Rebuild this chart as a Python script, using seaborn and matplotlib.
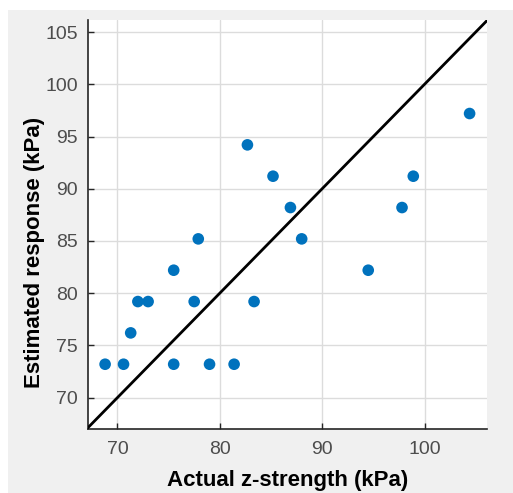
import matplotlib
matplotlib.use("Agg")
import matplotlib.pyplot as plt
import seaborn as sns
import pandas as pd
from matplotlib.patches import Rectangle

actual = [104.4, 82.7, 85.2, 98.9, 86.9, 97.8, 77.9, 88.0,
          75.5, 94.5, 72.0, 73.0, 77.5, 83.35, 71.3,
          68.8, 70.6, 75.5, 79.0, 81.4]
estimated = [97.2, 94.2, 91.2, 91.2, 88.2, 88.2, 85.2, 85.2,
             82.2, 82.2, 79.2, 79.2, 79.2, 79.2, 76.2,
             73.2, 73.2, 73.2, 73.2, 73.2]
x_ticks = [70, 80, 90, 100]
y_ticks = [70, 75, 80, 85, 90, 95, 100, 105]
lims = [67.1, 106.1]
ylims = [67.0, 106.2]

sns.set_theme(style="white")
plt.rcParams['font.family'] = ['Liberation Sans', 'DejaVu Sans']

df = pd.DataFrame({"actual": actual, "estimated": estimated})

fig = plt.figure(figsize=(5.13, 4.93), dpi=100, facecolor="white")
bg = Rectangle((8 / 513, 0), 1, (493 - 10) / 493, transform=fig.transFigure,
               facecolor="#f0f0f0", edgecolor="none", zorder=-10)
fig.add_artist(bg)
ax = fig.add_axes([87.7 / 513, 64 / 493, (487 - 87.7) / 513, (429 - 19.5) / 493])
ax.set_zorder(1)
ax.set_facecolor("white")

ax.plot(lims, [lims[0], lims[1]], color="black", lw=2, zorder=3)
sns.scatterplot(data=df, x="actual", y="estimated", ax=ax, color="#0072BD",
                s=70, edgecolor="none", zorder=4)

ax.set_xlim(lims)
ax.set_ylim(ylims)
ax.set_xticks(x_ticks)
ax.set_yticks(y_ticks)
ax.grid(True, color="#dcdcdc", lw=1)
ax.set_axisbelow(True)
for s in ["top", "right"]:
    ax.spines[s].set_visible(False)
for s in ["left", "bottom"]:
    ax.spines[s].set_color("#262626")
    ax.spines[s].set_linewidth(1.2)
ax.tick_params(axis="both", direction="in", length=4, width=1, colors="#262626",
               labelcolor="#4d4d4d", labelsize=14, left=True, bottom=True)
ax.tick_params(axis="y", pad=7)
ax.tick_params(axis="x", pad=9)
ax.set_xlabel("Actual z-strength (kPa)", fontsize=16, fontweight="bold", color="black", labelpad=8)
ax.set_ylabel("Estimated response (kPa)", fontsize=16, fontweight="bold", color="black")
ax.yaxis.set_label_coords(-0.107, 0.43)

fig.savefig("out.png", dpi=100, facecolor=fig.get_facecolor())
